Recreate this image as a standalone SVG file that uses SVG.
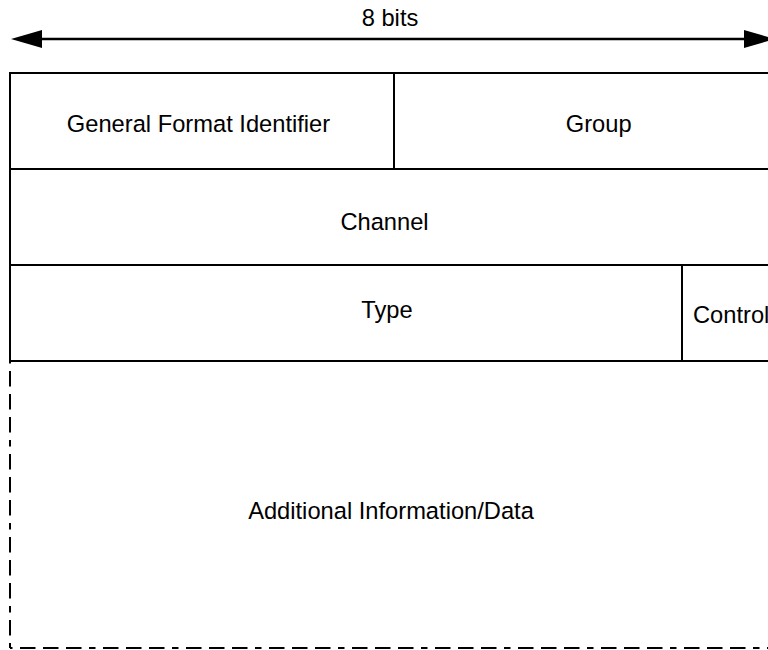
<svg xmlns="http://www.w3.org/2000/svg" width="768" height="650" viewBox="0 0 768 650">
<style>
.cell{fill:#ffffff;stroke:#000000;stroke-width:2}
.lbl{font-family:"Liberation Sans",Arial,sans-serif;font-size:23.7px;fill:#000000;text-anchor:middle}
.dash{fill:none;stroke:#000000;stroke-width:2;stroke-dasharray:15.5 7.5 15.5 7.5 15.5 7.5 6.5 7.5;stroke-dashoffset:-10}
.dim{stroke:#000000;stroke-width:2.5;fill:none}
</style>
<defs>
<marker id="ah" viewBox="0 0 31 18" markerWidth="31" markerHeight="18" refX="1" refY="9" orient="auto-start-reverse" markerUnits="userSpaceOnUse">
<path d="M0,0 L31,9 L0,18 Z" fill="#000000"/>
</marker>
</defs>
<rect width="768" height="650" fill="#ffffff"/>
<g id="connectors">
<line class="dim" x1="41" y1="39" x2="745" y2="39" marker-start="url(#ah)" marker-end="url(#ah)"/>
</g>
<text class="lbl" x="390" y="26">8 bits</text>
<g id="node-data">
<line class="dash" x1="10" y1="361" x2="10" y2="648"/>
<line class="dash" x1="10" y1="648" x2="778" y2="648"/>
<text class="lbl" x="391" y="519">Additional Information/Data</text>
</g>
<g id="node-gfi">
<rect class="cell" x="10" y="73" width="384" height="96"/>
<text class="lbl" x="198.5" y="132">General Format Identifier</text>
</g>
<g id="node-group">
<rect class="cell" x="394" y="73" width="384" height="96"/>
<text class="lbl" x="598.7" y="132">Group</text>
</g>
<g id="node-channel">
<rect class="cell" x="10" y="169" width="768" height="96"/>
<text class="lbl" x="384.5" y="230">Channel</text>
</g>
<g id="node-type">
<rect class="cell" x="10" y="265" width="672" height="96"/>
<text class="lbl" x="387" y="318">Type</text>
</g>
<g id="node-control">
<rect class="cell" x="682" y="265" width="96" height="96"/>
<text class="lbl" x="693" y="323" style="text-anchor:start">Control</text>
</g>
</svg>
